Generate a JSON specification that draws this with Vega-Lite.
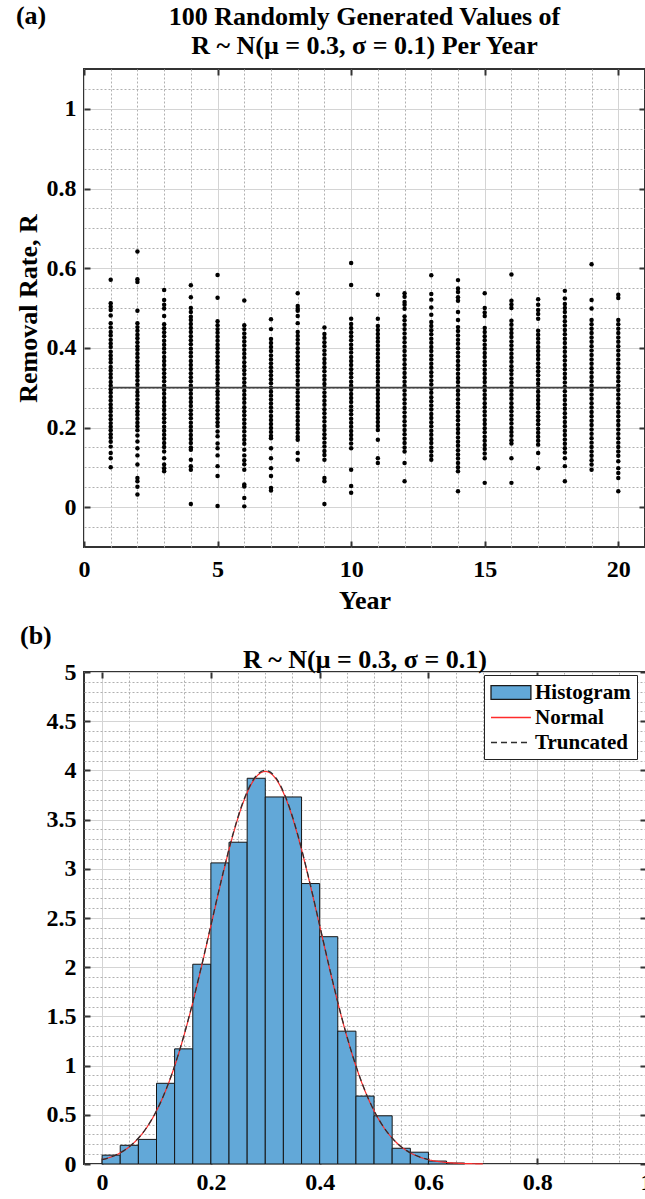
{
"$schema": "https://vega.github.io/schema/vega-lite/v6.json",
"background": "white",
"padding": {"left": 14, "top": 2, "right": 0, "bottom": 0},
"spacing": 7,
"resolve": {"scale": {"fill": "independent", "stroke": "independent", "strokeDash": "independent"}, "legend": {"fill": "independent", "stroke": "independent", "strokeDash": "independent"}},
"config": {
  "font": "Liberation Serif",
  "view": {"stroke": "#333333", "strokeWidth": 2},
  "axis": {"labelFont": "Liberation Serif", "labelFontSize": 24, "labelFontWeight": "bold", "labelColor": "#000", "titleFont": "Liberation Serif", "titleFontSize": 26, "titleFontWeight": "bold", "titleColor": "#000", "labelOverlap": false, "labelFlush": false, "labelBound": false},
  "title": {"font": "Liberation Serif", "fontSize": 26, "fontWeight": "bold", "color": "#000", "anchor": "middle", "frame": "group"}
},
"datasets": {
"pts": [
{"t":1,"r":0.571},{"t":1,"r":0.512},{"t":1,"r":0.503},{"t":1,"r":0.495},{"t":1,"r":0.481},{"t":1,"r":0.462},{"t":1,"r":0.451},{"t":1,"r":0.136},{"t":1,"r":0.123},{"t":1,"r":0.1},
{"t":1,"r":0.44},{"t":1,"r":0.431},{"t":1,"r":0.42},{"t":1,"r":0.411},{"t":1,"r":0.402},{"t":1,"r":0.39},{"t":1,"r":0.381},{"t":1,"r":0.372},{"t":1,"r":0.363},{"t":1,"r":0.352},{"t":1,"r":0.343},{"t":1,"r":0.334},{"t":1,"r":0.325},{"t":1,"r":0.314},{"t":1,"r":0.305},{"t":1,"r":0.296},{"t":1,"r":0.287},{"t":1,"r":0.277},{"t":1,"r":0.268},{"t":1,"r":0.258},{"t":1,"r":0.249},{"t":1,"r":0.24},{"t":1,"r":0.23},{"t":1,"r":0.221},{"t":1,"r":0.211},{"t":1,"r":0.202},{"t":1,"r":0.193},{"t":1,"r":0.183},{"t":1,"r":0.174},{"t":1,"r":0.164},{"t":1,"r":0.152},
{"t":2,"r":0.642},{"t":2,"r":0.572},{"t":2,"r":0.565},{"t":2,"r":0.493},{"t":2,"r":0.165},{"t":2,"r":0.148},{"t":2,"r":0.13},{"t":2,"r":0.107},{"t":2,"r":0.073},{"t":2,"r":0.065},{"t":2,"r":0.051},{"t":2,"r":0.032},
{"t":2,"r":0.462},{"t":2,"r":0.452},{"t":2,"r":0.443},{"t":2,"r":0.433},{"t":2,"r":0.424},{"t":2,"r":0.414},{"t":2,"r":0.404},{"t":2,"r":0.395},{"t":2,"r":0.385},{"t":2,"r":0.376},{"t":2,"r":0.366},{"t":2,"r":0.356},{"t":2,"r":0.347},{"t":2,"r":0.337},{"t":2,"r":0.328},{"t":2,"r":0.318},{"t":2,"r":0.308},{"t":2,"r":0.299},{"t":2,"r":0.289},{"t":2,"r":0.28},{"t":2,"r":0.27},{"t":2,"r":0.26},{"t":2,"r":0.251},{"t":2,"r":0.241},{"t":2,"r":0.232},{"t":2,"r":0.222},{"t":2,"r":0.212},{"t":2,"r":0.203},{"t":2,"r":0.193},{"t":2,"r":0.18},
{"t":3,"r":0.545},{"t":3,"r":0.52},{"t":3,"r":0.508},{"t":3,"r":0.499},{"t":3,"r":0.48},{"t":3,"r":0.459},{"t":3,"r":0.123},{"t":3,"r":0.107},{"t":3,"r":0.098},{"t":3,"r":0.09},
{"t":3,"r":0.449},{"t":3,"r":0.439},{"t":3,"r":0.429},{"t":3,"r":0.418},{"t":3,"r":0.408},{"t":3,"r":0.398},{"t":3,"r":0.388},{"t":3,"r":0.377},{"t":3,"r":0.367},{"t":3,"r":0.357},{"t":3,"r":0.346},{"t":3,"r":0.336},{"t":3,"r":0.326},{"t":3,"r":0.316},{"t":3,"r":0.305},{"t":3,"r":0.295},{"t":3,"r":0.285},{"t":3,"r":0.274},{"t":3,"r":0.264},{"t":3,"r":0.254},{"t":3,"r":0.244},{"t":3,"r":0.233},{"t":3,"r":0.223},{"t":3,"r":0.213},{"t":3,"r":0.202},{"t":3,"r":0.192},{"t":3,"r":0.182},{"t":3,"r":0.172},{"t":3,"r":0.161},{"t":3,"r":0.151},{"t":3,"r":0.14},
{"t":4,"r":0.557},{"t":4,"r":0.527},{"t":4,"r":0.5},{"t":4,"r":0.49},{"t":4,"r":0.478},{"t":4,"r":0.47},{"t":4,"r":0.119},{"t":4,"r":0.103},{"t":4,"r":0.094},{"t":4,"r":0.008},
{"t":4,"r":0.46},{"t":4,"r":0.45},{"t":4,"r":0.44},{"t":4,"r":0.429},{"t":4,"r":0.419},{"t":4,"r":0.409},{"t":4,"r":0.398},{"t":4,"r":0.388},{"t":4,"r":0.378},{"t":4,"r":0.367},{"t":4,"r":0.357},{"t":4,"r":0.347},{"t":4,"r":0.336},{"t":4,"r":0.326},{"t":4,"r":0.316},{"t":4,"r":0.305},{"t":4,"r":0.295},{"t":4,"r":0.285},{"t":4,"r":0.274},{"t":4,"r":0.264},{"t":4,"r":0.254},{"t":4,"r":0.243},{"t":4,"r":0.233},{"t":4,"r":0.223},{"t":4,"r":0.212},{"t":4,"r":0.202},{"t":4,"r":0.192},{"t":4,"r":0.181},{"t":4,"r":0.171},{"t":4,"r":0.161},{"t":4,"r":0.15},{"t":4,"r":0.144},
{"t":5,"r":0.583},{"t":5,"r":0.526},{"t":5,"r":0.178},{"t":5,"r":0.16},{"t":5,"r":0.148},{"t":5,"r":0.13},{"t":5,"r":0.103},{"t":5,"r":0.078},{"t":5,"r":0.003},
{"t":5,"r":0.467},{"t":5,"r":0.457},{"t":5,"r":0.447},{"t":5,"r":0.438},{"t":5,"r":0.428},{"t":5,"r":0.418},{"t":5,"r":0.408},{"t":5,"r":0.399},{"t":5,"r":0.389},{"t":5,"r":0.379},{"t":5,"r":0.369},{"t":5,"r":0.36},{"t":5,"r":0.35},{"t":5,"r":0.34},{"t":5,"r":0.33},{"t":5,"r":0.321},{"t":5,"r":0.311},{"t":5,"r":0.301},{"t":5,"r":0.291},{"t":5,"r":0.282},{"t":5,"r":0.272},{"t":5,"r":0.262},{"t":5,"r":0.252},{"t":5,"r":0.243},{"t":5,"r":0.233},{"t":5,"r":0.223},{"t":5,"r":0.213},{"t":5,"r":0.204},{"t":5,"r":0.19},
{"t":6,"r":0.519},{"t":6,"r":0.13},{"t":6,"r":0.118},{"t":6,"r":0.108},{"t":6,"r":0.094},{"t":6,"r":0.057},{"t":6,"r":0.052},{"t":6,"r":0.023},{"t":6,"r":0.002},
{"t":6,"r":0.457},{"t":6,"r":0.447},{"t":6,"r":0.436},{"t":6,"r":0.426},{"t":6,"r":0.416},{"t":6,"r":0.406},{"t":6,"r":0.395},{"t":6,"r":0.385},{"t":6,"r":0.375},{"t":6,"r":0.364},{"t":6,"r":0.354},{"t":6,"r":0.344},{"t":6,"r":0.334},{"t":6,"r":0.323},{"t":6,"r":0.313},{"t":6,"r":0.303},{"t":6,"r":0.292},{"t":6,"r":0.282},{"t":6,"r":0.272},{"t":6,"r":0.262},{"t":6,"r":0.251},{"t":6,"r":0.241},{"t":6,"r":0.231},{"t":6,"r":0.22},{"t":6,"r":0.21},{"t":6,"r":0.2},{"t":6,"r":0.19},{"t":6,"r":0.179},{"t":6,"r":0.169},{"t":6,"r":0.159},{"t":6,"r":0.144},
{"t":7,"r":0.472},{"t":7,"r":0.447},{"t":7,"r":0.148},{"t":7,"r":0.123},{"t":7,"r":0.098},{"t":7,"r":0.078},{"t":7,"r":0.048},{"t":7,"r":0.042},
{"t":7,"r":0.422},{"t":7,"r":0.412},{"t":7,"r":0.402},{"t":7,"r":0.392},{"t":7,"r":0.381},{"t":7,"r":0.371},{"t":7,"r":0.361},{"t":7,"r":0.351},{"t":7,"r":0.341},{"t":7,"r":0.331},{"t":7,"r":0.321},{"t":7,"r":0.311},{"t":7,"r":0.3},{"t":7,"r":0.29},{"t":7,"r":0.28},{"t":7,"r":0.27},{"t":7,"r":0.26},{"t":7,"r":0.25},{"t":7,"r":0.24},{"t":7,"r":0.229},{"t":7,"r":0.219},{"t":7,"r":0.209},{"t":7,"r":0.199},{"t":7,"r":0.189},{"t":7,"r":0.179},{"t":7,"r":0.173},
{"t":8,"r":0.537},{"t":8,"r":0.505},{"t":8,"r":0.498},{"t":8,"r":0.493},{"t":8,"r":0.48},{"t":8,"r":0.462},{"t":8,"r":0.136},{"t":8,"r":0.119},
{"t":8,"r":0.44},{"t":8,"r":0.43},{"t":8,"r":0.42},{"t":8,"r":0.41},{"t":8,"r":0.399},{"t":8,"r":0.389},{"t":8,"r":0.379},{"t":8,"r":0.369},{"t":8,"r":0.359},{"t":8,"r":0.349},{"t":8,"r":0.339},{"t":8,"r":0.329},{"t":8,"r":0.318},{"t":8,"r":0.308},{"t":8,"r":0.298},{"t":8,"r":0.288},{"t":8,"r":0.278},{"t":8,"r":0.268},{"t":8,"r":0.258},{"t":8,"r":0.248},{"t":8,"r":0.237},{"t":8,"r":0.227},{"t":8,"r":0.217},{"t":8,"r":0.207},{"t":8,"r":0.197},{"t":8,"r":0.187},{"t":8,"r":0.177},{"t":8,"r":0.169},
{"t":9,"r":0.451},{"t":9,"r":0.073},{"t":9,"r":0.065},{"t":9,"r":0.008},
{"t":9,"r":0.435},{"t":9,"r":0.425},{"t":9,"r":0.414},{"t":9,"r":0.404},{"t":9,"r":0.393},{"t":9,"r":0.383},{"t":9,"r":0.372},{"t":9,"r":0.362},{"t":9,"r":0.351},{"t":9,"r":0.341},{"t":9,"r":0.33},{"t":9,"r":0.32},{"t":9,"r":0.309},{"t":9,"r":0.299},{"t":9,"r":0.288},{"t":9,"r":0.278},{"t":9,"r":0.267},{"t":9,"r":0.257},{"t":9,"r":0.246},{"t":9,"r":0.236},{"t":9,"r":0.225},{"t":9,"r":0.215},{"t":9,"r":0.204},{"t":9,"r":0.194},{"t":9,"r":0.183},{"t":9,"r":0.173},{"t":9,"r":0.162},{"t":9,"r":0.152},{"t":9,"r":0.141},{"t":9,"r":0.131},{"t":9,"r":0.119},
{"t":10,"r":0.613},{"t":10,"r":0.558},{"t":10,"r":0.473},{"t":10,"r":0.094},{"t":10,"r":0.053},{"t":10,"r":0.036},
{"t":10,"r":0.46},{"t":10,"r":0.45},{"t":10,"r":0.439},{"t":10,"r":0.429},{"t":10,"r":0.419},{"t":10,"r":0.408},{"t":10,"r":0.398},{"t":10,"r":0.388},{"t":10,"r":0.377},{"t":10,"r":0.367},{"t":10,"r":0.357},{"t":10,"r":0.346},{"t":10,"r":0.336},{"t":10,"r":0.326},{"t":10,"r":0.315},{"t":10,"r":0.305},{"t":10,"r":0.295},{"t":10,"r":0.284},{"t":10,"r":0.274},{"t":10,"r":0.264},{"t":10,"r":0.253},{"t":10,"r":0.243},{"t":10,"r":0.233},{"t":10,"r":0.222},{"t":10,"r":0.212},{"t":10,"r":0.202},{"t":10,"r":0.191},{"t":10,"r":0.181},{"t":10,"r":0.171},{"t":10,"r":0.16},{"t":10,"r":0.148},
{"t":11,"r":0.533},{"t":11,"r":0.473},{"t":11,"r":0.169},{"t":11,"r":0.123},{"t":11,"r":0.111},
{"t":11,"r":0.455},{"t":11,"r":0.445},{"t":11,"r":0.435},{"t":11,"r":0.425},{"t":11,"r":0.415},{"t":11,"r":0.405},{"t":11,"r":0.395},{"t":11,"r":0.385},{"t":11,"r":0.375},{"t":11,"r":0.365},{"t":11,"r":0.355},{"t":11,"r":0.345},{"t":11,"r":0.335},{"t":11,"r":0.325},{"t":11,"r":0.315},{"t":11,"r":0.304},{"t":11,"r":0.294},{"t":11,"r":0.284},{"t":11,"r":0.274},{"t":11,"r":0.264},{"t":11,"r":0.254},{"t":11,"r":0.244},{"t":11,"r":0.234},{"t":11,"r":0.224},{"t":11,"r":0.214},{"t":11,"r":0.204},{"t":11,"r":0.194},
{"t":12,"r":0.537},{"t":12,"r":0.528},{"t":12,"r":0.515},{"t":12,"r":0.508},{"t":12,"r":0.498},{"t":12,"r":0.111},{"t":12,"r":0.065},
{"t":12,"r":0.479},{"t":12,"r":0.469},{"t":12,"r":0.458},{"t":12,"r":0.447},{"t":12,"r":0.436},{"t":12,"r":0.425},{"t":12,"r":0.414},{"t":12,"r":0.403},{"t":12,"r":0.392},{"t":12,"r":0.381},{"t":12,"r":0.37},{"t":12,"r":0.359},{"t":12,"r":0.348},{"t":12,"r":0.337},{"t":12,"r":0.326},{"t":12,"r":0.315},{"t":12,"r":0.304},{"t":12,"r":0.293},{"t":12,"r":0.282},{"t":12,"r":0.271},{"t":12,"r":0.26},{"t":12,"r":0.249},{"t":12,"r":0.238},{"t":12,"r":0.227},{"t":12,"r":0.216},{"t":12,"r":0.205},{"t":12,"r":0.194},{"t":12,"r":0.183},{"t":12,"r":0.172},{"t":12,"r":0.161},{"t":12,"r":0.15},{"t":12,"r":0.14},
{"t":13,"r":0.582},{"t":13,"r":0.535},{"t":13,"r":0.521},{"t":13,"r":0.501},{"t":13,"r":0.483},
{"t":13,"r":0.465},{"t":13,"r":0.455},{"t":13,"r":0.444},{"t":13,"r":0.434},{"t":13,"r":0.423},{"t":13,"r":0.413},{"t":13,"r":0.402},{"t":13,"r":0.392},{"t":13,"r":0.381},{"t":13,"r":0.371},{"t":13,"r":0.36},{"t":13,"r":0.35},{"t":13,"r":0.339},{"t":13,"r":0.329},{"t":13,"r":0.318},{"t":13,"r":0.308},{"t":13,"r":0.297},{"t":13,"r":0.287},{"t":13,"r":0.276},{"t":13,"r":0.266},{"t":13,"r":0.255},{"t":13,"r":0.245},{"t":13,"r":0.234},{"t":13,"r":0.224},{"t":13,"r":0.213},{"t":13,"r":0.203},{"t":13,"r":0.192},{"t":13,"r":0.182},{"t":13,"r":0.171},{"t":13,"r":0.161},{"t":13,"r":0.15},{"t":13,"r":0.14},{"t":13,"r":0.129},{"t":13,"r":0.119},
{"t":14,"r":0.57},{"t":14,"r":0.549},{"t":14,"r":0.54},{"t":14,"r":0.527},{"t":14,"r":0.518},{"t":14,"r":0.49},{"t":14,"r":0.47},{"t":14,"r":0.04},
{"t":14,"r":0.452},{"t":14,"r":0.442},{"t":14,"r":0.431},{"t":14,"r":0.42},{"t":14,"r":0.41},{"t":14,"r":0.399},{"t":14,"r":0.388},{"t":14,"r":0.378},{"t":14,"r":0.367},{"t":14,"r":0.356},{"t":14,"r":0.346},{"t":14,"r":0.335},{"t":14,"r":0.324},{"t":14,"r":0.314},{"t":14,"r":0.303},{"t":14,"r":0.292},{"t":14,"r":0.282},{"t":14,"r":0.271},{"t":14,"r":0.26},{"t":14,"r":0.25},{"t":14,"r":0.239},{"t":14,"r":0.228},{"t":14,"r":0.218},{"t":14,"r":0.207},{"t":14,"r":0.196},{"t":14,"r":0.186},{"t":14,"r":0.175},{"t":14,"r":0.164},{"t":14,"r":0.154},{"t":14,"r":0.143},{"t":14,"r":0.132},{"t":14,"r":0.122},{"t":14,"r":0.111},{"t":14,"r":0.1},{"t":14,"r":0.09},
{"t":15,"r":0.537},{"t":15,"r":0.5},{"t":15,"r":0.489},{"t":15,"r":0.48},{"t":15,"r":0.061},
{"t":15,"r":0.45},{"t":15,"r":0.44},{"t":15,"r":0.429},{"t":15,"r":0.419},{"t":15,"r":0.408},{"t":15,"r":0.398},{"t":15,"r":0.387},{"t":15,"r":0.377},{"t":15,"r":0.366},{"t":15,"r":0.356},{"t":15,"r":0.345},{"t":15,"r":0.335},{"t":15,"r":0.324},{"t":15,"r":0.314},{"t":15,"r":0.303},{"t":15,"r":0.293},{"t":15,"r":0.282},{"t":15,"r":0.272},{"t":15,"r":0.261},{"t":15,"r":0.251},{"t":15,"r":0.24},{"t":15,"r":0.23},{"t":15,"r":0.219},{"t":15,"r":0.209},{"t":15,"r":0.198},{"t":15,"r":0.188},{"t":15,"r":0.177},{"t":15,"r":0.167},{"t":15,"r":0.156},{"t":15,"r":0.146},{"t":15,"r":0.135},{"t":15,"r":0.123},
{"t":16,"r":0.584},{"t":16,"r":0.518},{"t":16,"r":0.509},{"t":16,"r":0.5},{"t":16,"r":0.123},{"t":16,"r":0.061},
{"t":16,"r":0.468},{"t":16,"r":0.458},{"t":16,"r":0.447},{"t":16,"r":0.437},{"t":16,"r":0.427},{"t":16,"r":0.416},{"t":16,"r":0.406},{"t":16,"r":0.396},{"t":16,"r":0.385},{"t":16,"r":0.375},{"t":16,"r":0.365},{"t":16,"r":0.354},{"t":16,"r":0.344},{"t":16,"r":0.334},{"t":16,"r":0.323},{"t":16,"r":0.313},{"t":16,"r":0.303},{"t":16,"r":0.292},{"t":16,"r":0.282},{"t":16,"r":0.272},{"t":16,"r":0.261},{"t":16,"r":0.251},{"t":16,"r":0.241},{"t":16,"r":0.23},{"t":16,"r":0.22},{"t":16,"r":0.21},{"t":16,"r":0.199},{"t":16,"r":0.189},{"t":16,"r":0.179},{"t":16,"r":0.168},{"t":16,"r":0.16},
{"t":17,"r":0.522},{"t":17,"r":0.508},{"t":17,"r":0.495},{"t":17,"r":0.485},{"t":17,"r":0.473},{"t":17,"r":0.136},{"t":17,"r":0.098},
{"t":17,"r":0.443},{"t":17,"r":0.433},{"t":17,"r":0.423},{"t":17,"r":0.413},{"t":17,"r":0.402},{"t":17,"r":0.392},{"t":17,"r":0.382},{"t":17,"r":0.372},{"t":17,"r":0.361},{"t":17,"r":0.351},{"t":17,"r":0.341},{"t":17,"r":0.331},{"t":17,"r":0.32},{"t":17,"r":0.31},{"t":17,"r":0.3},{"t":17,"r":0.29},{"t":17,"r":0.279},{"t":17,"r":0.269},{"t":17,"r":0.259},{"t":17,"r":0.249},{"t":17,"r":0.238},{"t":17,"r":0.228},{"t":17,"r":0.218},{"t":17,"r":0.208},{"t":17,"r":0.197},{"t":17,"r":0.187},{"t":17,"r":0.177},{"t":17,"r":0.167},{"t":17,"r":0.157},
{"t":18,"r":0.543},{"t":18,"r":0.524},{"t":18,"r":0.51},{"t":18,"r":0.5},{"t":18,"r":0.49},{"t":18,"r":0.103},{"t":18,"r":0.065},
{"t":18,"r":0.478},{"t":18,"r":0.467},{"t":18,"r":0.456},{"t":18,"r":0.445},{"t":18,"r":0.434},{"t":18,"r":0.423},{"t":18,"r":0.412},{"t":18,"r":0.401},{"t":18,"r":0.39},{"t":18,"r":0.379},{"t":18,"r":0.368},{"t":18,"r":0.357},{"t":18,"r":0.346},{"t":18,"r":0.335},{"t":18,"r":0.324},{"t":18,"r":0.313},{"t":18,"r":0.302},{"t":18,"r":0.291},{"t":18,"r":0.28},{"t":18,"r":0.269},{"t":18,"r":0.258},{"t":18,"r":0.247},{"t":18,"r":0.236},{"t":18,"r":0.225},{"t":18,"r":0.214},{"t":18,"r":0.203},{"t":18,"r":0.192},{"t":18,"r":0.181},{"t":18,"r":0.17},{"t":18,"r":0.159},{"t":18,"r":0.148},{"t":18,"r":0.137},{"t":18,"r":0.123},
{"t":19,"r":0.61},{"t":19,"r":0.52},{"t":19,"r":0.499},
{"t":19,"r":0.47},{"t":19,"r":0.459},{"t":19,"r":0.448},{"t":19,"r":0.437},{"t":19,"r":0.426},{"t":19,"r":0.415},{"t":19,"r":0.404},{"t":19,"r":0.393},{"t":19,"r":0.382},{"t":19,"r":0.371},{"t":19,"r":0.36},{"t":19,"r":0.349},{"t":19,"r":0.338},{"t":19,"r":0.327},{"t":19,"r":0.316},{"t":19,"r":0.305},{"t":19,"r":0.294},{"t":19,"r":0.283},{"t":19,"r":0.272},{"t":19,"r":0.261},{"t":19,"r":0.25},{"t":19,"r":0.239},{"t":19,"r":0.228},{"t":19,"r":0.217},{"t":19,"r":0.206},{"t":19,"r":0.195},{"t":19,"r":0.184},{"t":19,"r":0.173},{"t":19,"r":0.162},{"t":19,"r":0.151},{"t":19,"r":0.14},{"t":19,"r":0.129},{"t":19,"r":0.118},{"t":19,"r":0.107},{"t":19,"r":0.094},
{"t":20,"r":0.533},{"t":20,"r":0.525},{"t":20,"r":0.098},{"t":20,"r":0.086},{"t":20,"r":0.073},{"t":20,"r":0.04},
{"t":20,"r":0.47},{"t":20,"r":0.459},{"t":20,"r":0.448},{"t":20,"r":0.437},{"t":20,"r":0.426},{"t":20,"r":0.415},{"t":20,"r":0.404},{"t":20,"r":0.393},{"t":20,"r":0.382},{"t":20,"r":0.371},{"t":20,"r":0.36},{"t":20,"r":0.349},{"t":20,"r":0.338},{"t":20,"r":0.327},{"t":20,"r":0.316},{"t":20,"r":0.305},{"t":20,"r":0.294},{"t":20,"r":0.283},{"t":20,"r":0.272},{"t":20,"r":0.261},{"t":20,"r":0.25},{"t":20,"r":0.239},{"t":20,"r":0.228},{"t":20,"r":0.217},{"t":20,"r":0.206},{"t":20,"r":0.195},{"t":20,"r":0.184},{"t":20,"r":0.173},{"t":20,"r":0.162},{"t":20,"r":0.151},{"t":20,"r":0.14},{"t":20,"r":0.129},{"t":20,"r":0.115}
],
"hist": [
{"lo":0,"hi":0.0333,"d":0.09},{"lo":0.0333,"hi":0.0667,"d":0.19},{"lo":0.0667,"hi":0.1,"d":0.25},{"lo":0.1,"hi":0.1333,"d":0.82},{"lo":0.1333,"hi":0.1667,"d":1.17},{"lo":0.1667,"hi":0.2,"d":2.03},{"lo":0.2,"hi":0.2333,"d":3.06},{"lo":0.2333,"hi":0.2667,"d":3.27},{"lo":0.2667,"hi":0.3,"d":3.92},{"lo":0.3,"hi":0.3333,"d":3.73},{"lo":0.3333,"hi":0.3667,"d":3.73},{"lo":0.3667,"hi":0.4,"d":2.85},{"lo":0.4,"hi":0.4333,"d":2.31},{"lo":0.4333,"hi":0.4667,"d":1.35},{"lo":0.4667,"hi":0.5,"d":0.69},{"lo":0.5,"hi":0.5333,"d":0.49},{"lo":0.5333,"hi":0.5667,"d":0.16},{"lo":0.5667,"hi":0.6,"d":0.12},{"lo":0.6,"hi":0.6333,"d":0.03},{"lo":0.6333,"hi":0.6667,"d":0.01}
],
"norm": [
{"x":0,"f":0.0443},{"x":0.02,"f":0.0792},{"x":0.04,"f":0.1358},{"x":0.06,"f":0.2239},{"x":0.08,"f":0.3547},{"x":0.1,"f":0.5399},{"x":0.12,"f":0.7895},{"x":0.14,"f":1.1092},{"x":0.16,"f":1.4973},{"x":0.18,"f":1.9419},{"x":0.2,"f":2.4197},{"x":0.22,"f":2.8969},{"x":0.24,"f":3.3322},{"x":0.26,"f":3.6827},{"x":0.28,"f":3.9104},{"x":0.3,"f":3.9894},{"x":0.32,"f":3.9104},{"x":0.34,"f":3.6827},{"x":0.36,"f":3.3322},{"x":0.38,"f":2.8969},{"x":0.4,"f":2.4197},{"x":0.42,"f":1.9419},{"x":0.44,"f":1.4973},{"x":0.46,"f":1.1092},{"x":0.48,"f":0.7895},{"x":0.5,"f":0.5399},{"x":0.52,"f":0.3547},{"x":0.54,"f":0.2239},{"x":0.56,"f":0.1358},{"x":0.58,"f":0.0792},{"x":0.6,"f":0.0443},{"x":0.62,"f":0.0238},{"x":0.64,"f":0.0123},{"x":0.66,"f":0.0061},{"x":0.68,"f":0.0029},{"x":0.7,"f":0.0013}
],
"trunc": [
{"x":0,"f":0.0444},{"x":0.02,"f":0.0794},{"x":0.04,"f":0.1362},{"x":0.06,"f":0.2245},{"x":0.08,"f":0.3557},{"x":0.1,"f":0.5414},{"x":0.12,"f":0.7916},{"x":0.14,"f":1.1122},{"x":0.16,"f":1.5013},{"x":0.18,"f":1.9471},{"x":0.2,"f":2.4262},{"x":0.22,"f":2.9047},{"x":0.24,"f":3.3412},{"x":0.26,"f":3.6926},{"x":0.28,"f":3.921},{"x":0.3,"f":4.0002},{"x":0.32,"f":3.921},{"x":0.34,"f":3.6926},{"x":0.36,"f":3.3412},{"x":0.38,"f":2.9047},{"x":0.4,"f":2.4262},{"x":0.42,"f":1.9471},{"x":0.44,"f":1.5013},{"x":0.46,"f":1.1122},{"x":0.48,"f":0.7916},{"x":0.5,"f":0.5414},{"x":0.52,"f":0.3557},{"x":0.54,"f":0.2245},{"x":0.56,"f":0.1362},{"x":0.58,"f":0.0794},{"x":0.6,"f":0.0444}
]
},
"vconcat": [
{
  "width": 561, "height": 478,
  "title": {"text": ["100 Randomly Generated Values of", "R ~ N(μ = 0.3, σ = 0.1) Per Year"], "offset": -56, "lineHeight": 29},
  "layer": [
    {"data": {"name": "pts"}, "mark": {"type": "circle", "size": 20, "color": "#000", "opacity": 1},
     "encoding": {
       "x": {"field": "t", "type": "quantitative", "scale": {"domain": [0, 21], "nice": false, "zero": false},
             "axis": {"orient": "bottom", "values": [1,2,3,4,6,7,8,9,11,12,13,14,16,17,18,19], "grid": true, "gridDash": [2, 2], "gridColor": "#b0b0b0", "labels": false, "ticks": false, "domain": false, "title": null}},
       "y": {"field": "r", "type": "quantitative", "scale": {"domain": [-0.1, 1.1], "nice": false, "zero": false},
             "axis": {"orient": "left", "values": [-0.05,0.05,0.1,0.15,0.25,0.3,0.35,0.45,0.5,0.55,0.65,0.7,0.75,0.85,0.9,0.95,1.05], "grid": true, "gridDash": [2, 2], "gridColor": "#b0b0b0", "labels": false, "ticks": false, "domain": false, "title": null}}}},
    {"data": {"values": [{"t": 1, "r": 0.3}, {"t": 20, "r": 0.3}]}, "mark": {"type": "line", "color": "#444", "strokeWidth": 1.6},
     "encoding": {
       "x": {"field": "t", "type": "quantitative", "axis": {"orient": "bottom", "values": [0,5,10,15,20], "format": "~g", "grid": true, "gridColor": "#d4d4d4", "gridWidth": 1, "ticks": true, "tickSize": -6, "tickColor": "#333", "tickWidth": 2, "labelPadding": 16, "domain": false, "title": "Year", "titlePadding": 6}},
       "y": {"field": "r", "type": "quantitative", "axis": {"orient": "left", "values": [0,0.2,0.4,0.6,0.8,1], "format": "~g", "grid": true, "gridColor": "#d4d4d4", "gridWidth": 1, "ticks": true, "tickSize": -6, "tickColor": "#333", "tickWidth": 2, "labelPadding": 14, "domain": false, "title": "Removal Rate, R", "titlePadding": 5}}}},
    {"data": {"values": [{"lab": "(a)", "t": -2.55, "r": 1.233}]}, "mark": {"type": "text", "align": "left", "baseline": "middle", "fontSize": 26, "fontWeight": "bold", "font": "Liberation Serif", "color": "#000"},
     "encoding": {
       "x": {"field": "t", "type": "quantitative", "axis": {"orient": "top", "values": [0,5,10,15,20], "grid": false, "labels": false, "ticks": true, "tickSize": -6, "tickColor": "#333", "tickWidth": 2, "domain": false, "title": null}},
       "y": {"field": "r", "type": "quantitative", "axis": {"orient": "right", "values": [0,0.2,0.4,0.6,0.8,1], "grid": false, "labels": false, "ticks": true, "tickSize": -6, "tickColor": "#333", "tickWidth": 2, "domain": false, "title": null}},
       "text": {"field": "lab"}}}
  ],
  "resolve": {"axis": {"x": "independent", "y": "independent"}}
},
{
  "width": 562, "height": 492,
  "title": {"text": "R ~ N(μ = 0.3, σ = 0.1)", "offset": -50},
  "layer": [
    {"data": {"name": "hist"}, "mark": {"type": "rect", "stroke": "#151515", "strokeWidth": 1},
     "encoding": {
       "x": {"field": "lo", "type": "quantitative", "scale": {"domain": [-0.0333, 1], "nice": false, "zero": false},
             "axis": {"orient": "bottom", "values": [0.05,0.1,0.15,0.25,0.3,0.35,0.45,0.5,0.55,0.65,0.7,0.75,0.85,0.9,0.95], "grid": true, "gridDash": [2, 2], "gridColor": "#b0b0b0", "labels": false, "ticks": false, "domain": false, "title": null}},
       "x2": {"field": "hi"},
       "y": {"field": "d", "type": "quantitative", "scale": {"domain": [0, 5], "nice": false},
             "axis": {"orient": "left", "values": [0.1,0.2,0.3,0.4,0.6,0.7,0.8,0.9,1.1,1.2,1.3,1.4,1.6,1.7,1.8,1.9,2.1,2.2,2.3,2.4,2.6,2.7,2.8,2.9,3.1,3.2,3.3,3.4,3.6,3.7,3.8,3.9,4.1,4.2,4.3,4.4,4.6,4.7,4.8,4.9], "grid": true, "gridDash": [2, 2], "gridColor": "#b0b0b0", "labels": false, "ticks": false, "domain": false, "title": null}},
       "y2": {"datum": 0},
       "fill": {"datum": "Histogram", "type": "nominal",
                "scale": {"domain": ["Histogram"], "range": ["#62A8D8"]},
                "legend": {"title": null, "orient": "none", "legendX": 400, "legendY": 3, "padding": 6, "labelFont": "Liberation Serif", "labelFontSize": 21, "labelFontWeight": "bold", "labelOpacity": 0, "symbolType": "M-1,-0.65H2.8V0.65H-1Z", "symbolSize": 441, "symbolStrokeColor": "#1a1a1a", "symbolStrokeWidth": 1.3, "symbolOpacity": 1, "rowPadding": 3, "labelOffset": 22, "zindex": 2}}}},
    {"data": {"name": "norm"}, "mark": {"type": "line", "strokeWidth": 1.2, "interpolate": "monotone"},
     "encoding": {
       "x": {"field": "x", "type": "quantitative", "axis": {"orient": "bottom", "values": [0,0.2,0.4,0.6,0.8,1], "format": "~g", "grid": true, "gridColor": "#d4d4d4", "gridWidth": 1, "ticks": true, "tickSize": -6, "tickColor": "#333", "tickWidth": 2, "labelPadding": 12, "domain": false, "title": null}},
       "y": {"field": "f", "type": "quantitative", "axis": {"orient": "left", "values": [0,0.5,1,1.5,2,2.5,3,3.5,4,4.5,5], "format": "~g", "grid": true, "gridColor": "#d4d4d4", "gridWidth": 1, "ticks": true, "tickSize": -6, "tickColor": "#333", "tickWidth": 2, "labelPadding": 14, "domain": false, "title": null}},
       "stroke": {"datum": "Normal", "type": "nominal",
                  "scale": {"domain": ["Histogram", "Normal", "Truncated"], "range": ["transparent", "#ff2b2b", "#2e2e2e"]},
                  "legend": {"title": null, "orient": "none", "legendX": 400, "legendY": 3, "fillColor": "#ffffff", "strokeColor": "#222222", "padding": 6, "labelFont": "Liberation Serif", "labelFontSize": 21, "labelFontWeight": "bold", "labelColor": "#000", "symbolType": "M-1,0H2.8", "symbolSize": 441, "symbolStrokeWidth": 1.3, "rowPadding": 3, "labelOffset": 22, "zindex": 1}},
       "strokeDash": {"datum": "Normal", "type": "nominal",
                  "scale": {"domain": ["Histogram", "Normal", "Truncated"], "range": [[1, 0], [1, 0], [6, 4]]},
                  "legend": {"title": null, "orient": "none", "legendX": 400, "legendY": 3, "fillColor": "#ffffff", "strokeColor": "#222222", "padding": 6, "labelFont": "Liberation Serif", "labelFontSize": 21, "labelFontWeight": "bold", "labelColor": "#000", "symbolType": "M-1,0H2.8", "symbolSize": 441, "symbolStrokeWidth": 1.3, "rowPadding": 3, "labelOffset": 22, "zindex": 1}}}},
    {"data": {"name": "trunc"}, "mark": {"type": "line", "strokeWidth": 1.3, "interpolate": "monotone"},
     "encoding": {
       "x": {"field": "x", "type": "quantitative", "axis": null},
       "y": {"field": "f", "type": "quantitative", "axis": null},
       "stroke": {"datum": "Truncated", "type": "nominal"},
       "strokeDash": {"datum": "Truncated", "type": "nominal"}}},
    {"data": {"values": [{"lab": "(b)", "x": -0.151, "f": 5.366}]}, "mark": {"type": "text", "align": "left", "baseline": "middle", "fontSize": 26, "fontWeight": "bold", "font": "Liberation Serif", "color": "#000"},
     "encoding": {
       "x": {"field": "x", "type": "quantitative", "axis": {"orient": "top", "values": [0,0.2,0.4,0.6,0.8,1], "grid": false, "labels": false, "ticks": true, "tickSize": -6, "tickColor": "#333", "tickWidth": 2, "domain": false, "title": null}},
       "y": {"field": "f", "type": "quantitative", "axis": {"orient": "right", "values": [0,0.5,1,1.5,2,2.5,3,3.5,4,4.5,5], "grid": false, "labels": false, "ticks": true, "tickSize": -6, "tickColor": "#333", "tickWidth": 2, "domain": false, "title": null}},
       "text": {"field": "lab"}}}
  ],
  "resolve": {"axis": {"x": "independent", "y": "independent"}}
}
]
}
